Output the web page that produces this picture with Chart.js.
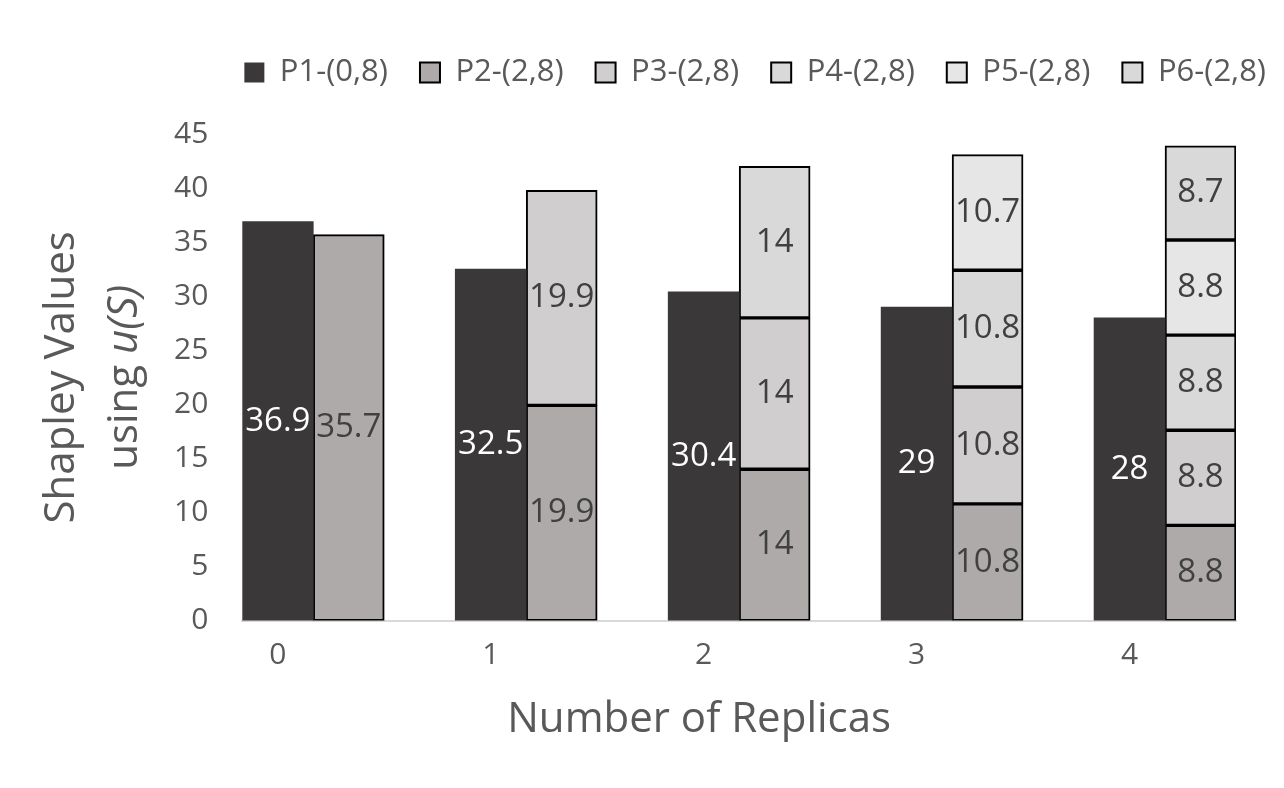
<!DOCTYPE html>
<html>
<head>
<meta charset="utf-8">
<script src="https://cdn.jsdelivr.net/npm/chart.js@4/dist/chart.umd.min.js"></script>
<style>
  html, body { margin: 0; padding: 0; background: #fff; }
  #wrap { width: 1284px; height: 788px; }
</style>
</head>
<body>
<div id="wrap"><canvas id="chart" width="1284" height="788"></canvas></div>
<script>
// Number of replicas (x categories)
const replicas = ["0", "1", "2", "3", "4"];
const seriesNames = ["P1-(0,8)", "P2-(2,8)", "P3-(2,8)", "P4-(2,8)", "P5-(2,8)", "P6-(2,8)"];

// Shapley values per player
const p1 = [36.9, 32.5, 30.4, 29, 28];
const p2 = [35.7, 19.9, 14, 10.8, 8.8];
const p3 = [null, 19.9, 14, 10.8, 8.8];
const p4 = [null, null, 14, 10.8, 8.8];
const p5 = [null, null, null, 10.7, 8.8];
const p6 = [null, null, null, null, 8.7];

const yMin = 0, yMax = 45, yStep = 5;

const colors = ["#3a3838", "#aeaaaa", "#d0cece", "#d9d9d9", "#e7e6e6", "#d9d9d9"];
const textColor = "#595959";
const FONT = "'Open Sans', 'DejaVu Sans', sans-serif";
const X_TITLE = "Number of Replicas";

// each replica count takes two slots (P1 bar, stacked P2..P6 bar) plus a blank gap slot
const slotLabels = [];
replicas.forEach((r, i) => {
  slotLabels.push(r, "");
  if (i < replicas.length - 1) slotLabels.push("");
});
function toSlots(values, offset) {
  const arr = new Array(slotLabels.length).fill(null);
  values.forEach((v, i) => { arr[3 * i + offset] = v; });
  return arr;
}

const seriesValues = [p1, p2, p3, p4, p5, p6];
const datasets = seriesValues.map((vals, k) => ({
  label: seriesNames[k],
  data: toSlots(vals, k === 0 ? 0 : 1),
  backgroundColor: colors[k],
  borderColor: "#000",
  borderWidth: k === 0 ? 0 : 2,
  borderSkipped: false,
  barPercentage: 1,
  categoryPercentage: 1
}));

// extra room under the legend
const legendGap = {
  id: "legendGap",
  beforeInit(chart) {
    const fit = chart.legend.fit;
    chart.legend.fit = function () {
      fit.call(this);
      this.height += 36;
    };
  }
};

// value labels in the middle of every bar segment
const valueLabels = {
  id: "valueLabels",
  afterDatasetsDraw(chart) {
    const ctx = chart.ctx;
    ctx.save();
    ctx.font = "33px " + FONT;
    ctx.textAlign = "center";
    ctx.textBaseline = "middle";
    chart.data.datasets.forEach((ds, di) => {
      const meta = chart.getDatasetMeta(di);
      meta.data.forEach((el, i) => {
        const v = ds.data[i];
        if (v === null || v === undefined) return;
        ctx.fillStyle = di === 0 ? "#ffffff" : "#404040";
        ctx.fillText(String(v), el.x, (el.y + el.base) / 2);
      });
    });
    ctx.restore();
  }
};

// axis titles: two-line y title with italic u(S), x title shifted left like the original
const axisTitles = {
  id: "axisTitles",
  afterDraw(chart) {
    const ctx = chart.ctx;
    const a = chart.chartArea;
    const cy = (a.top + a.bottom) / 2;
    const normal = "42px " + FONT;
    const italic = "italic 42px " + FONT;

    ctx.save();
    ctx.fillStyle = textColor;
    ctx.font = normal;
    ctx.textAlign = "center";
    ctx.textBaseline = "middle";
    ctx.fillText(X_TITLE, (a.left + a.right) / 2 - 40, chart.scales.x.bottom - 23);
    ctx.restore();

    ctx.save();
    ctx.fillStyle = textColor;
    ctx.textBaseline = "middle";
    ctx.translate(62, cy);
    ctx.rotate(-Math.PI / 2);
    ctx.font = normal;
    ctx.textAlign = "center";
    ctx.fillText("Shapley Values", 0, 0);
    ctx.restore();

    ctx.save();
    ctx.fillStyle = textColor;
    ctx.textBaseline = "middle";
    ctx.translate(125, cy);
    ctx.rotate(-Math.PI / 2);
    ctx.font = normal;
    const w1 = ctx.measureText("using ").width;
    ctx.font = italic;
    const w2 = ctx.measureText("u(S)").width;
    const x = -(w1 + w2) / 2;
    ctx.textAlign = "left";
    ctx.font = normal;
    ctx.fillText("using ", x, 0);
    ctx.font = italic;
    ctx.fillText("u(S)", x + w1, 0);
    ctx.restore();
  }
};

new Chart(document.getElementById("chart").getContext("2d"), {
  type: "bar",
  data: { labels: slotLabels, datasets: datasets },
  options: {
    responsive: false,
    animation: false,
    layout: { padding: { left: 140, right: -14, top: 25, bottom: 45 } },
    plugins: {
      legend: {
        position: "top",
        align: "end",
        labels: {
          color: textColor,
          font: { family: FONT, size: 31 },
          boxWidth: 20,
          boxHeight: 20,
          padding: 32
        }
      },
      tooltip: { enabled: false }
    },
    scales: {
      x: {
        stacked: true,
        grid: { display: false, drawTicks: false },
        border: { display: true, color: "#d9d9d9", width: 2 },
        ticks: {
          color: textColor,
          font: { family: FONT, size: 30 },
          autoSkip: false,
          maxRotation: 0,
          padding: 17
        },
        title: {
          // space is kept here, text is drawn by the axisTitles plugin
          display: true,
          text: X_TITLE,
          color: "rgba(0,0,0,0)",
          font: { family: FONT, size: 42 },
          padding: { top: 2, bottom: 0 }
        }
      },
      y: {
        stacked: true,
        min: yMin,
        max: yMax,
        grid: { display: false, drawTicks: false },
        border: { display: false },
        ticks: {
          stepSize: yStep,
          color: textColor,
          font: { family: FONT, size: 30 },
          padding: 34
        }
      },
      yR: {
        type: "linear",
        position: "right",
        display: true,
        grid: { display: false, drawTicks: false },
        border: { display: false },
        ticks: { display: false },
        afterFit(scale) { scale.width = 62; }
      }
    }
  },
  plugins: [legendGap, valueLabels, axisTitles]
});
</script>
</body>
</html>
